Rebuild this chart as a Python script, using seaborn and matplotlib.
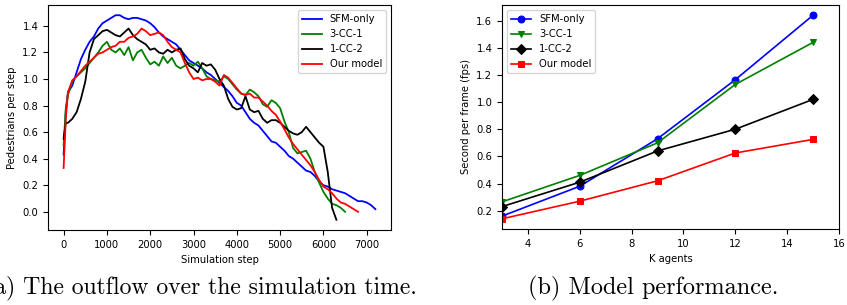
import numpy as np
import pandas as pd
import matplotlib
matplotlib.use('Agg')
import matplotlib.pyplot as plt
import seaborn as sns

# --- (a) outflow over simulation time ---
STEPS = [0, 50] + list(range(100, 7300, 100))

SFM_FLOW = [0.43, 0.75, 0.90, 0.95, 1.05, 1.15, 1.22, 1.28, 1.32, 1.38, 1.42, 1.44, 1.46, 1.48,
            1.48, 1.46, 1.45, 1.46, 1.46, 1.45, 1.44, 1.42, 1.39, 1.35, 1.32, 1.30, 1.28, 1.26,
            1.22, 1.18, 1.14, 1.12, 1.10, 1.08, 1.05, 1.03, 1.00, 0.97, 0.94, 0.91, 0.87, 0.82,
            0.80, 0.75, 0.70, 0.67, 0.65, 0.61, 0.57, 0.53, 0.52, 0.49, 0.46, 0.42, 0.40, 0.37,
            0.34, 0.31, 0.30, 0.27, 0.23, 0.20, 0.19, 0.17, 0.16, 0.15, 0.14, 0.12, 0.10, 0.08,
            0.08, 0.07, 0.05, 0.02]
CC31_FLOW = [0.50, 0.78, 0.88, 0.98, 1.02, 1.05, 1.08, 1.12, 1.16, 1.20, 1.25, 1.28, 1.22, 1.20,
             1.23, 1.18, 1.24, 1.14, 1.20, 1.22, 1.16, 1.11, 1.13, 1.10, 1.17, 1.12, 1.16, 1.10,
             1.08, 1.10, 1.12, 1.10, 1.13, 1.08, 1.02, 1.00, 0.99, 0.98, 1.02, 1.00, 0.96, 0.92,
             0.89, 0.88, 0.92, 0.90, 0.87, 0.81, 0.79, 0.84, 0.82, 0.78, 0.68, 0.60, 0.48, 0.44,
             0.45, 0.46, 0.40, 0.30, 0.22, 0.15, 0.10, 0.06, 0.05, 0.03, 0.00]
CC12_FLOW = [0.55, 0.67, 0.67, 0.70, 0.75, 0.85, 0.98, 1.20, 1.30, 1.33, 1.36, 1.37, 1.35, 1.33,
             1.32, 1.35, 1.38, 1.33, 1.30, 1.28, 1.26, 1.22, 1.23, 1.20, 1.19, 1.22, 1.20, 1.22,
             1.23, 1.15, 1.10, 1.08, 1.05, 1.12, 1.10, 1.11, 1.07, 1.00, 0.95, 0.85, 0.79, 0.77,
             0.78, 0.87, 0.77, 0.75, 0.76, 0.70, 0.67, 0.69, 0.69, 0.67, 0.64, 0.61, 0.59, 0.58,
             0.60, 0.64, 0.60, 0.56, 0.52, 0.49, 0.30, 0.03, -0.06]
OURS_FLOW = [0.33, 0.70, 0.90, 0.99, 1.02, 1.06, 1.10, 1.13, 1.16, 1.19, 1.20, 1.22, 1.24, 1.25,
             1.28, 1.28, 1.31, 1.32, 1.34, 1.38, 1.36, 1.33, 1.34, 1.35, 1.33, 1.28, 1.24, 1.22,
             1.20, 1.12, 1.05, 1.00, 1.01, 0.99, 1.00, 1.00, 0.98, 0.95, 1.03, 1.01, 0.97, 0.93,
             0.89, 0.88, 0.89, 0.86, 0.86, 0.83, 0.80, 0.76, 0.73, 0.68, 0.62, 0.56, 0.51, 0.47,
             0.43, 0.39, 0.35, 0.30, 0.24, 0.19, 0.17, 0.14, 0.10, 0.07, 0.06, 0.04, 0.02, 0.00]

# --- (b) model performance ---
K_AGENTS = [3, 6, 9, 12, 15]
SFM_FPS = [0.16, 0.38, 0.73, 1.165, 1.64]
CC31_FPS = [0.265, 0.46, 0.70, 1.13, 1.44]
CC12_FPS = [0.23, 0.41, 0.64, 0.80, 1.02]
OURS_FPS = [0.14, 0.27, 0.42, 0.625, 0.725]

LABELS = ['SFM-only', '3-CC-1', '1-CC-2', 'Our model']
COLORS = ['blue', 'green', 'black', 'red']
MARKERS = ['o', 'v', 'D', 's']

plt.rcParams['font.family'] = ['DejaVu Sans']
plt.rcParams['font.size'] = 7.2

fig = plt.figure(figsize=(8.47, 3.05), dpi=100)
ax1 = fig.add_axes([0.0567, 0.2459, 0.4049, 0.7377])
ax2 = fig.add_axes([0.5927, 0.2492, 0.3979, 0.7344])

flows = [SFM_FLOW, CC31_FLOW, CC12_FLOW, OURS_FLOW]
for vals, lab, col in zip(flows, LABELS, COLORS):
    sns.lineplot(x=STEPS[:len(vals)], y=vals, color=col, label=lab, lw=1.3, ax=ax1)
ax1.set_xlabel('Simulation step')
ax1.set_ylabel('Pedestrians per step')
ax1.set_xticks(range(0, 8000, 1000))
ax1.legend(loc='upper right', fontsize=7.2)

fps = [SFM_FPS, CC31_FPS, CC12_FPS, OURS_FPS]
for vals, lab, col, mk in zip(fps, LABELS, COLORS, MARKERS):
    sns.lineplot(x=K_AGENTS, y=vals, color=col, label=lab, marker=mk, markersize=5,
                 markeredgecolor=col, lw=1.2, ax=ax2)
ax2.set_xlim(3, 16)
ax2.set_xticks(range(4, 17, 2))
ax2.set_xlabel('K agents')
ax2.set_ylabel('Second per frame (fps)')
ax2.legend(loc='upper left', fontsize=7.2)

for ax in (ax1, ax2):
    ax.tick_params(labelsize=7.2)

# the left caption runs past the left edge in the original too
fig.text(417 / 847, 1 - 288 / 305, '(a) The outflow over the simulation time.',
         ha='right', va='center', fontsize=17.1, family='cmr10')
fig.text(653 / 847, 1 - 288 / 305, '(b) Model performance.',
         ha='center', va='center', fontsize=17.5, family='cmr10')

fig.savefig('out.png', dpi=100)
